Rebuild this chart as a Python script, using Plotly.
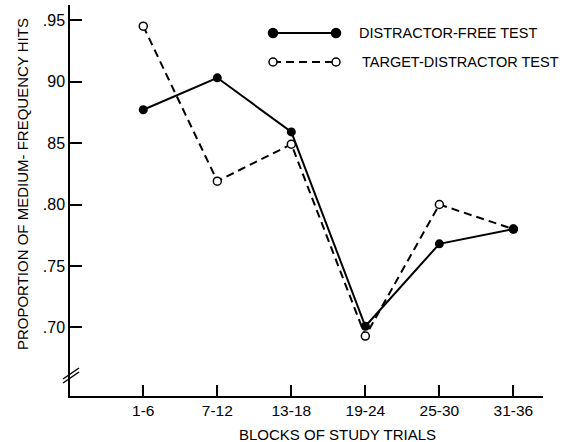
import plotly.graph_objects as go

blocks = ["1-6", "7-12", "13-18", "19-24", "25-30", "31-36"]
distractor_free = [0.877, 0.903, 0.859, 0.701, 0.768, 0.780]
target_distractor = [0.945, 0.819, 0.849, 0.693, 0.800, 0.780]
ytick_vals = [0.70, 0.75, 0.80, 0.85, 0.90, 0.95]
ytick_text = [".70", ".75", ".80", "85", "90", ".95"]

FONT = "Liberation Sans"
DASH = "8px,5px"
fig = go.Figure()
fig.add_trace(go.Scatter(
    x=blocks, y=target_distractor, mode="lines+markers",
    line=dict(color="black", width=2, dash=DASH),
    marker=dict(symbol="circle", size=8, color="white", line=dict(color="black", width=1.5)),
    name="TARGET-DISTRACTOR TEST", showlegend=False))
fig.add_trace(go.Scatter(
    x=blocks, y=distractor_free, mode="lines+markers",
    line=dict(color="black", width=2),
    marker=dict(symbol="circle", size=9, color="black"),
    name="DISTRACTOR-FREE TEST", showlegend=False))

fig.update_layout(
    width=566, height=442,
    margin=dict(l=70, r=23, t=5, b=46),
    plot_bgcolor="white", paper_bgcolor="white",
    font=dict(family=FONT, color="black", size=15),
    xaxis=dict(type="category", categoryorder="array", categoryarray=blocks,
               range=[-0.99, 5.40], showline=True, linecolor="black", linewidth=1.5,
               ticks="inside", ticklen=11, tickwidth=1.5, tickcolor="black",
               showgrid=False, zeroline=False, tickfont=dict(size=15.5, family=FONT)),
    yaxis=dict(range=[0.6443, 0.9622], tickvals=ytick_vals, ticktext=ytick_text,
               showline=True, linecolor="black", linewidth=1.5,
               ticks="inside", ticklen=12, tickwidth=1.5, tickcolor="black",
               showgrid=False, zeroline=False, tickfont=dict(size=16, family=FONT)),
    showlegend=False,
)

# axis titles
fig.add_annotation(text="BLOCKS OF STUDY TRIALS", xref="paper", yref="paper",
                   x=0.5645, y=-0.0997, showarrow=False, xanchor="center", yanchor="middle",
                   font=dict(size=15, family=FONT))
fig.add_annotation(text="PROPORTION OF MEDIUM- FREQUENCY HITS", xref="paper", yref="paper",
                   x=-0.1015, y=0.542, showarrow=False, textangle=-90,
                   xanchor="center", yanchor="middle", font=dict(size=15, family=FONT))

# axis break marks
for dy in (0, 4):
    fig.add_shape(type="line", xref="paper", yref="paper",
                  x0=(63 - 70) / 473, x1=(79 - 70) / 473,
                  y0=(396 - 379 - dy) / 391, y1=(396 - 368 - dy) / 391,
                  line=dict(color="black", width=1.5))

# custom legend
leg = [("DISTRACTOR-FREE TEST", 33, "solid", "black", 357),
       ("TARGET-DISTRACTOR TEST", 62, DASH, "white", 360)]
for label, py, dash, fill, tx in leg:
    yp = (396 - py) / 391
    xa, xb = (273 - 70) / 473, (336 - 70) / 473
    fig.add_shape(type="line", xref="paper", yref="paper", x0=xa, x1=xb, y0=yp, y1=yp,
                  line=dict(color="black", width=2, dash=dash))
    r = 4.5 if fill == "black" else 4
    for xc in (xa, xb):
        fig.add_shape(type="circle", xref="paper", yref="paper",
                      xsizemode="pixel", ysizemode="pixel", xanchor=xc, yanchor=yp,
                      x0=-r, x1=r, y0=-r, y1=r, fillcolor=fill,
                      line=dict(color="black", width=1.5))
    fig.add_annotation(text=label, xref="paper", yref="paper", x=(tx - 70) / 473, y=yp,
                       showarrow=False, xanchor="left", yanchor="middle",
                       font=dict(size=14.5, family=FONT))

fig.write_html("out.html", config={"displayModeBar": False},
               post_script="document.body.style.margin='0';")
